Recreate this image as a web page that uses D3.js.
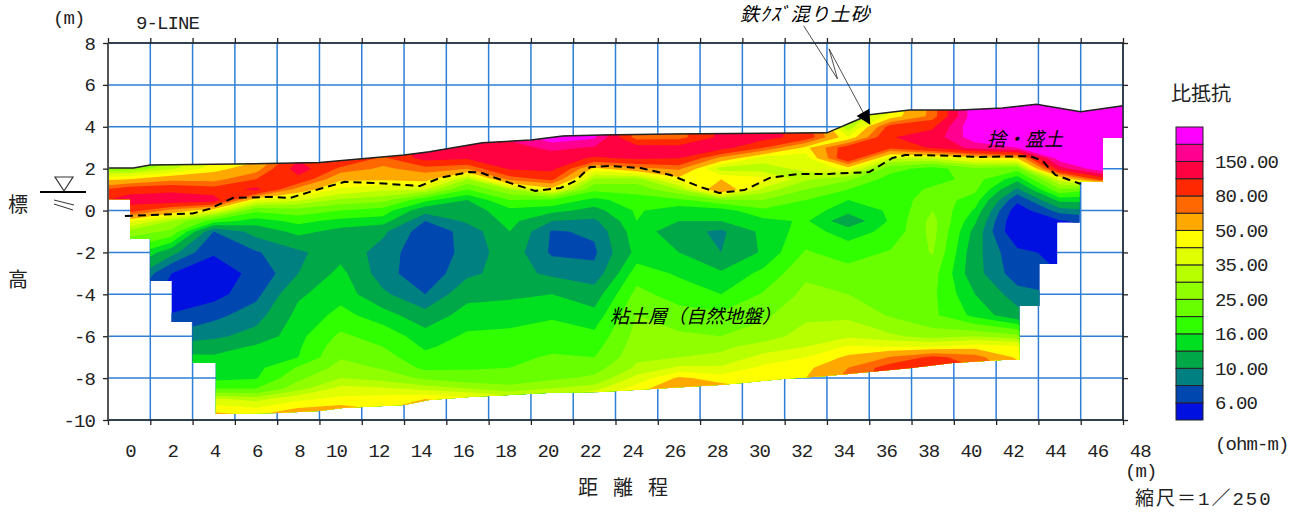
<!DOCTYPE html>
<html>
<head>
<meta charset="utf-8">
<script src="https://cdnjs.cloudflare.com/ajax/libs/d3/7.8.5/d3.min.js"></script>
<style>
  body { margin: 0; background: #fff; }
  text { fill: #222; }
  .mono { font-family: "Liberation Mono", "Noto Sans CJK JP", monospace; font-size: 19px; letter-spacing: -0.9px; }
  .cjk { font-family: "Noto Sans CJK JP", sans-serif; font-size: 20px; }
  .note { font-family: "Noto Sans CJK JP", sans-serif; font-size: 19px; font-style: italic; fill: #000; }
</style>
</head>
<body>
<svg id="chart" width="1302" height="513"></svg>
<script>
// elevation of each row of the resistivity table (m)
const elevations = [5.5, 4.5, 4, 3.5, 3, 2.5, 2, 1.5, 1, 0.5, 0, -0.5, -1, -2, -3, -4, -5, -6, -6.5, -7, -7.5, -8, -8.5, -9, -9.5, -10];
// distance of each column (m)
const distances = [-2, 0, 2, 4, 6, 8, 10, 12, 14, 16, 18, 20, 22, 24, 26, 28, 30, 32, 34, 36, 38, 40, 42, 44, 46, 48];

// resistivity (ohm-m), one list per distance
const rhoM2 = [26,26,26,26,26,26,26,46,72,95,95,44,28,18,15,15,15,15,15,15,15,15,15,15,15,15];
const rho0 = [27,27,27,27,27,27,27,50,95,130,90,44,28,18,12,9,9,9,9,9,9,9,9,9,9,9];
const rho2 = [27,27,27,27,27,27,34,60,100,140,60,30,24,11,6,5.2,6.1,8.5,11,14,14,14,14,14,14,14];
const rho4 = [40,40,40,40,40,40,46,60,90,130,42,18,8,6.2,5,5.3,7.5,9.5,11.5,13.5,14,15,20,36,47,60];
const rho6 = [46,46,46,46,46,46,58,80,120,42,21,14.5,11,7.8,6.6,7.5,9,11,13.5,14.5,15,15.7,20,33,44,55];
const rho8 = [105,105,105,105,105,105,130,100,58,36,23,17,14,9.5,10,12.5,14,15,15.5,16,20.5,24,28,40,52,60];
const rho10 = [120,120,120,120,120,110,75,52,40,29,20,15,12,11.8,14,15,17,21,23,24.5,27,30,37,44,55,60];
const rho12 = [100,100,100,100,100,75,62,52,36,27,18,14.5,10.5,9,8.8,10.5,14.5,18,20,22,24.5,28,36,46,50,55];
const rho14 = [120,120,120,120,120,125,72,55,35,17,11,8,7,6.8,6.8,8,11,14.5,15.5,17,19,24,33,50,60,65];
const rho16 = [150,150,150,150,135,115,65,30,20,13,11.5,10.5,8.6,8.6,9.5,12,14.5,16.5,17.5,18.5,19.5,22,30,46,55,60];
const rho18 = [160,160,160,160,135,125,115,70,30,20,15,14,13,11.5,11,12.5,14.5,17,18,19,20,22,27,40,50,55];
const rho20 = [250,250,250,250,160,130,120,85,45,19,14,10,7.8,7.7,9.5,13,15.5,18,19,20.5,22,24,30,38,50,55];
const rho22 = [210,210,210,210,145,105,47,29,21,15,12,9.5,8.3,7.7,8.5,11.5,14,17,18.5,20,23,26,33,45,50,55];
const rho24 = [70,70,70,70,130,115,60,28,22,18,16.5,16,15,14,18,21.5,25,27,28,29,31,37,46,52,55,60];
const rho26 = [72,72,72,72,125,110,68,46,30,19,14,13,11,13,15.5,18,22,26,28,30,36,52,60,60,60,60];
const rho28 = [120,120,120,120,125,60,32,50,64,24,14.5,13,9.5,10,13.5,16,21,25,29,31,36,46,55,55,55,55];
const rho30 = [125,125,125,125,80,38,32,45,33,25,19,15,14,13.5,17,20.5,24,28,32,37,44,47,50,50,50,50];
const rho32 = [95,95,95,95,47,38,37,31,25,20,18,16.5,17.5,20.5,24,26.5,29,32,35,42,47,50,50,50,50,50];
const rho34 = [30,30,30,42,95,105,44,26,20,16,14,11,14.5,18,22,25,29,34,43,52,65,70,70,70,70,70];
const rho36 = [35,44,90,108,85,36,22,18,17,17,16.5,16.5,17,20.5,21,23,24.5,31,42,66,90,90,90,90,90,90];
const rho38 = [70,70,105,125,115,36,18,18,21,23,25,27,27,25.5,22,21,21,28,42,85,95,95,95,95,95,95];
const rho40 = [260,250,260,240,165,45,24,22,21,18,15.5,13.5,12,11,11,13,15,30,46,72,80,80,80,80,80,80];
const rho42 = [260,260,250,240,200,50,22,14,9.5,6.5,5,4.5,4.5,6.5,7,8.8,11,27,44,48,55,55,55,55,55,55];
const rho44 = [260,260,260,260,260,240,130,38,24,14,9,5.8,5,5.5,6,8,8,8,8,8,8,8,8,8,8,8];
const rho46 = [260,260,260,260,260,260,250,90,20,14,10,7,6,6,6,6,6,6,6,6,6,6,6,6,6,6];
const rho48 = [260,260,260,260,260,260,250,90,20,14,10,7,6,6,6,6,6,6,6,6,6,6,6,6,6,6];
const columns = [rhoM2, rho0, rho2, rho4, rho6, rho8, rho10, rho12, rho14, rho16, rho18, rho20, rho22, rho24, rho26, rho28, rho30, rho32, rho34, rho36, rho38, rho40, rho42, rho44, rho46, rho48];

// colour classes, lowest first, and the boundaries between them
const classColors = ["#0010e0", "#0048b0", "#008080", "#00a848", "#00e020", "#30ff00", "#68ff00", "#90ff00", "#b8ff00", "#e0ff00", "#ffff00", "#ffa800", "#ff6800", "#ff2800", "#ff0040", "#ff0090", "#ff00ff"];
const classLimits = [6, 8, 10, 13, 16, 20, 25, 30, 35, 42, 50, 65, 80, 110, 150, 200];
const legendLabels = ["6.00", "10.00", "16.00", "25.00", "35.00", "50.00", "80.00", "150.00"];

// ground surface and stepped lower edge of the section
const surfaceM = [-1, 0.2, 1, 5, 9, 13, 14.2, 16.7, 19, 20.5, 22.3, 25.6, 33, 34.2, 35, 36.9, 39.3, 41.3, 42.9, 45, 47];
const surfaceZ = [2.03, 2.03, 2.18, 2.22, 2.29, 2.65, 2.81, 3.24, 3.37, 3.56, 3.61, 3.66, 3.71, 4.23, 4.57, 4.8, 4.8, 4.9, 5.07, 4.72, 5.0];
const lowerM = [47, 46.05, 46.05, 44.95, 44.95, 43.9, 43.9, 43.05, 43.05, 42.1, 42.1, 41.3, 38.95, 37, 35, 33, 30.9, 29, 27.9, 22.3, 19.8, 16.1, 14.2, 13, 10.1, 9, 7, 4.1, 4.1, 3, 3, 2, 2, 1, 1, 0.05, 0.05, -1];
const lowerZ = [3.47, 3.47, 1.37, 1.37, -0.58, -0.58, -2.55, -2.55, -4.56, -4.56, -7.13, -7.13, -7.28, -7.52, -7.71, -7.9, -8.04, -8.23, -8.33, -8.66, -8.71, -8.9, -9.05, -9.28, -9.43, -9.57, -9.67, -9.71, -7.28, -7.28, -5.32, -5.32, -3.36, -3.36, -1.36, -1.36, 0.54, 0.54];

// dashed top of the clay layer
const clayM = [-0.2, 3, 3.8, 4.9, 6.7, 7.6, 9, 10.2, 11.6, 13.75, 14.7, 16.1, 16.6, 18, 19.2, 20.4, 21.1, 21.8, 22.7, 24.2, 25.6, 27, 27.9, 29.1, 30.3, 31.7, 33.1, 35, 36.1, 36.7, 38.3, 40.2, 42.6, 43.2, 43.8, 45];
const clayZ = [-0.26, -0.14, 0.08, 0.6, 0.65, 0.6, 1.03, 1.37, 1.32, 1.17, 1.56, 1.84, 1.82, 1.32, 0.94, 1.08, 1.41, 2.08, 2.13, 2.03, 1.7, 1.13, 0.84, 0.98, 1.56, 1.75, 1.75, 1.84, 2.51, 2.65, 2.63, 2.56, 2.6, 2.37, 1.7, 1.27];

const xLabels = d3.range(0, 50, 2);
const yLabels = d3.range(-10, 10, 2);
const gridM = d3.range(-1, 49, 2);

const svg = d3.select("#chart");
const x = d3.scaleLinear().domain([-1, 47]).range([108, 1123]);
const y = d3.scaleLinear().domain([-10, 8]).range([420, 43]);

// blue mesh under the section
svg.append("g").selectAll("line").data(gridM).join("line")
  .attr("x1", d => x(d)).attr("x2", d => x(d))
  .attr("y1", y(8)).attr("y2", y(-10))
  .attr("stroke", "#2e7fd6").attr("stroke-width", 1.5);
svg.append("g").selectAll("line").data(yLabels).join("line")
  .attr("x1", x(-1)).attr("x2", x(47))
  .attr("y1", d => y(d)).attr("y2", d => y(d))
  .attr("stroke", "#2e7fd6").attr("stroke-width", 1.5);

// contour bands, clipped to the section outline
const outline = surfaceM.map((m, i) => [m, surfaceZ[i]])
  .concat(lowerM.map((m, i) => [m, lowerZ[i]]));
const polygon = d3.line().x(d => x(d[0])).y(d => y(d[1]));
svg.append("clipPath").attr("id", "section")
  .append("path").attr("d", polygon(outline) + "Z");

const nx = distances.length, ny = elevations.length;
const logValues = [];
for (let j = 0; j < ny; j++) {
  for (let i = 0; i < nx; i++) logValues.push(Math.log(columns[i][j]));
}
const rowToZ = d3.scaleLinear().domain(elevations.map((d, i) => i + 0.5)).range(elevations);
const colToM = d3.scaleLinear().domain(distances.map((d, i) => i + 0.5)).range(distances);
const toScreen = d3.geoTransform({
  point(gx, gy) { this.stream.point(x(colToM(gx)), y(rowToZ(gy))); }
});
const bandPath = d3.geoPath(toScreen);
const contours = d3.contours().size([nx, ny])
  .thresholds(classLimits.map(Math.log))(logValues);

const bands = svg.append("g").attr("clip-path", "url(#section)");
bands.append("path").attr("d", polygon(outline) + "Z").attr("fill", classColors[0]);
bands.selectAll("path.band").data(contours).join("path")
  .attr("class", "band")
  .attr("d", bandPath)
  .attr("fill", (d, i) => classColors[i + 1]);

// ground line and clay boundary
svg.append("path").attr("d", polygon(surfaceM.map((m, i) => [m, surfaceZ[i]])))
  .attr("fill", "none").attr("stroke", "#222").attr("stroke-width", 1.5);
svg.append("path").attr("d", polygon(clayM.map((m, i) => [m, clayZ[i]])))
  .attr("fill", "none").attr("stroke", "#000").attr("stroke-width", 2)
  .attr("stroke-dasharray", "8 5");

// frame and ticks
const frame = svg.append("g").attr("fill", "none");
frame.append("path").attr("d", `M${x(-1)},${y(8)}H${x(47)}V${y(-10)}H${x(-1)}`).attr("stroke", "#222").attr("stroke-width", 1.5);
frame.append("path").attr("d", `M${x(-1)},${y(8)}V${y(-10)}`).attr("stroke", "#555").attr("stroke-width", 2);

function tickOnly(axis, tx, ty) {
  const g = svg.append("g").attr("transform", `translate(${tx},${ty})`).call(axis);
  g.select(".domain").remove();
  g.selectAll("line").attr("stroke", "#222").attr("stroke-width", 1.3);
  return g;
}
tickOnly(d3.axisBottom(x).tickValues(gridM).tickSize(5).tickFormat(""), 0, y(-10));
tickOnly(d3.axisTop(x).tickValues(gridM).tickSize(5).tickFormat(""), 0, y(8));
tickOnly(d3.axisRight(y).tickValues(yLabels).tickSize(5).tickFormat(""), x(47), 0);

const yAxis = tickOnly(d3.axisLeft(y).tickValues(yLabels).tickSize(5).tickPadding(8).tickFormat(String), x(-1), 0);
yAxis.selectAll("text").attr("class", "mono");
yAxis.attr("font-family", null).attr("font-size", null);

const xAxis = tickOnly(d3.axisBottom(x).tickValues(xLabels).tickSize(0).tickPadding(0).tickFormat(String), 0, y(-10));
xAxis.selectAll("text").attr("class", "mono")
  .attr("text-anchor", "end").attr("x", 6).attr("y", 31).attr("dy", "0.32em");
xAxis.attr("font-family", null).attr("font-size", null);

// legend
const legendY = d3.scaleLinear().domain([0, classColors.length]).range([420, 127]);
svg.append("g").selectAll("rect").data(classColors).join("rect")
  .attr("x", 1176).attr("width", 27)
  .attr("y", (d, i) => legendY(i + 1))
  .attr("height", legendY(0) - legendY(1))
  .attr("fill", d => d).attr("stroke", "#222").attr("stroke-width", 1);
svg.append("g").selectAll("text").data(legendLabels).join("text")
  .attr("class", "mono").attr("x", 1215)
  .attr("y", (d, i) => legendY(i * 2 + 1)).attr("dy", "0.34em")
  .text(d => d);

function label(cls, tx, ty, str, spacing) {
  return svg.append("text").attr("class", cls).attr("x", tx).attr("y", ty)
    .attr("dy", "0.36em").style("letter-spacing", spacing).text(str);
}
label("mono", 1215, 443, "(ohm-m)");
label("mono", 1125, 470, "(m)");
label("mono", 53, 17, "(m)");
label("mono", 136, 22, "9-LINE");
label("cjk", 1171, 94, "比抵抗");
label("cjk", 8, 205, "標");
label("cjk", 8, 280, "高");
label("cjk", 578, 488, "距離程", "15px");
label("mono", 1135, 498, "縮尺＝1／250", "2px");
label("note", 610, 316, "粘土層（自然地盤）");
label("note", 987, 139, "捨・盛土");
label("note", 740, 14, "鉄ｸｽﾞ混り土砂", "1px");

// leader with its arrow head
const leader = [[31.9, 8.82], [33.5, 6.28], [33.1, 7.72], [35, 4.14]];
svg.append("path").attr("d", polygon(leader)).attr("fill", "none").attr("stroke", "#222").attr("stroke-width", 0.8);
const arrowHead = [[35, 4.86], [34.4, 4.52], [35.05, 4.1]];
svg.append("path").attr("d", polygon(arrowHead) + "Z").attr("fill", "#000");

// water level mark
const mark = svg.append("g").attr("fill", "none").attr("stroke", "#333");
mark.append("path").attr("d", "M40,192H86").attr("stroke", "#000").attr("stroke-width", 2);
mark.append("path").attr("d", "M55,177H73L64,191Z").attr("stroke-width", 1.2);
mark.append("path").attr("d", "M54,200L74,205M54,204L73,210").attr("stroke-width", 1);
</script>
</body>
</html>
